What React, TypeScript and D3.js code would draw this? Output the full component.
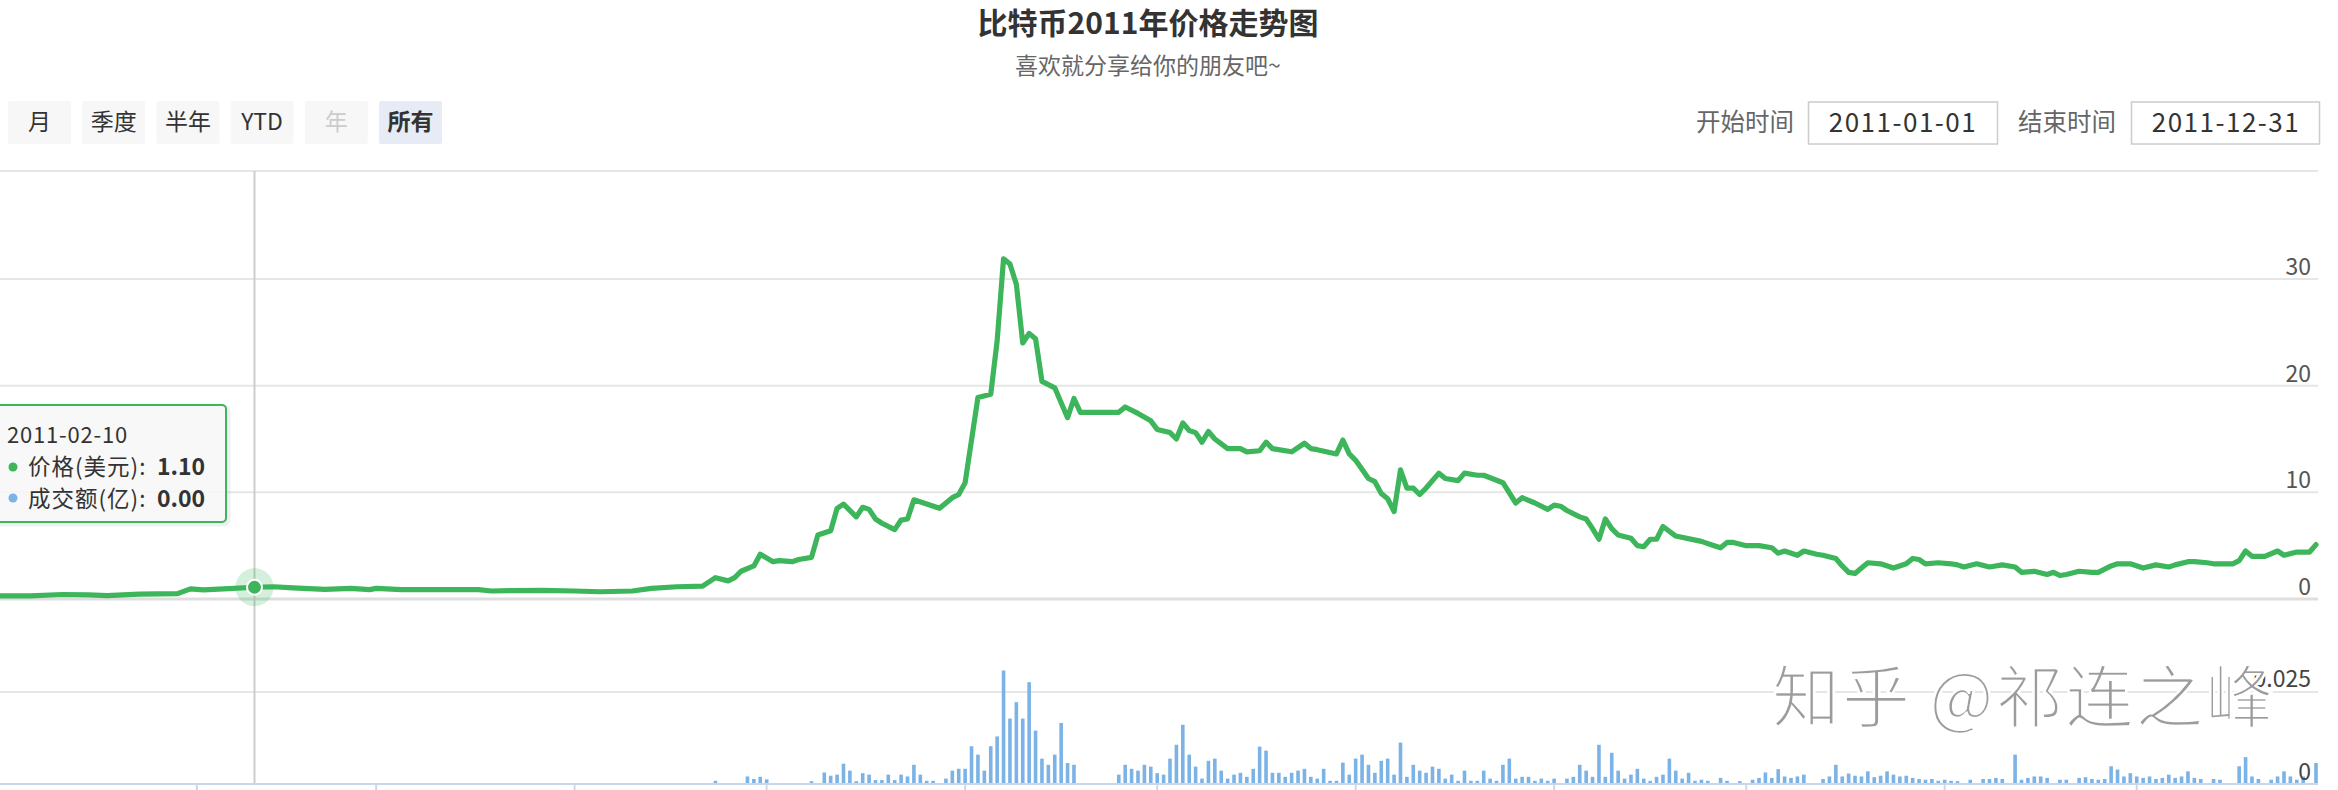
import React from 'react';
import * as d3 from 'd3';

// 比特币 2011 年日线价格（美元）与成交额（亿）
const YEAR = '2011';

const priceDays = [
  '01-01', '01-06', '01-11', '01-15', '01-18', '01-23', '01-29', '01-31', '02-02', '02-06',
  '02-10', '02-13', '02-16', '02-21', '02-25', '02-28', '03-01', '03-05', '03-12', '03-17',
  '03-19', '03-22', '03-27', '04-01', '04-05', '04-10', '04-13', '04-17', '04-21', '04-23',
  '04-25', '04-26', '04-27', '04-29', '04-30', '05-02', '05-03', '05-05', '05-06', '05-08',
  '05-09', '05-11', '05-12', '05-13', '05-15', '05-16', '05-17', '05-18', '05-19', '05-21',
  '05-22', '05-23', '05-24', '05-26', '05-28', '05-30', '05-31', '06-01', '06-03', '06-05',
  '06-06', '06-07', '06-08', '06-09', '06-10', '06-11', '06-12', '06-13', '06-14', '06-15',
  '06-17', '06-18', '06-19', '06-25', '06-26', '06-28', '06-30', '07-01', '07-03', '07-04',
  '07-05', '07-06', '07-07', '07-08', '07-09', '07-10', '07-12', '07-14', '07-15', '07-17',
  '07-18', '07-19', '07-22', '07-24', '07-25', '07-26', '07-29', '07-30', '07-31', '08-01',
  '08-03', '08-04', '08-05', '08-06', '08-07', '08-08', '08-09', '08-10', '08-11', '08-12',
  '08-14', '08-15', '08-17', '08-18', '08-20', '08-21', '08-24', '08-26', '08-27', '08-29',
  '08-31', '09-01', '09-02', '09-03', '09-05', '09-06', '09-07', '09-08', '09-09', '09-10',
  '09-11', '09-13', '09-14', '09-15', '09-16', '09-17', '09-18', '09-20', '09-24', '09-26',
  '09-27', '09-28', '09-29', '10-01', '10-03', '10-05', '10-06', '10-07', '10-09', '10-10',
  '10-12', '10-13', '10-15', '10-16', '10-17', '10-18', '10-19', '10-20', '10-22', '10-24',
  '10-26', '10-27', '10-28', '10-29', '10-31', '11-02', '11-03', '11-04', '11-06', '11-08',
  '11-10', '11-12', '11-13', '11-15', '11-17', '11-18', '11-19', '11-20', '11-22', '11-24',
  '11-25', '11-27', '11-28', '11-30', '12-02', '12-04', '12-06', '12-07', '12-09', '12-10',
  '12-12', '12-13', '12-16', '12-17', '12-18', '12-19', '12-21', '12-23', '12-24', '12-26',
  '12-28', '12-29',
];

const priceValues = [
  0.30, 0.30, 0.42, 0.38, 0.32, 0.45, 0.50, 0.95, 0.85, 0.98,
  1.10, 1.15, 1.05, 0.90, 1.00, 0.88, 1.00, 0.88, 0.88, 0.88,
  0.75, 0.78, 0.80, 0.75, 0.68, 0.75, 1.00, 1.15, 1.20, 2.00,
  1.70, 2.00, 2.60, 3.10, 4.20, 3.50, 3.60, 3.50, 3.70, 3.90,
  6.00, 6.40, 8.50, 8.90, 7.70, 8.60, 8.40, 7.50, 7.10, 6.50,
  7.40, 7.50, 9.30, 8.90, 8.50, 9.50, 9.80, 10.90, 18.90, 19.20,
  24.20, 31.90, 31.40, 29.50, 24.00, 24.90, 24.40, 20.40, 20.10, 19.80,
  17.00, 18.80, 17.50, 17.50, 18.00, 17.40, 16.70, 15.90, 15.60, 15.00,
  16.50, 15.80, 15.60, 14.70, 15.70, 15.00, 14.10, 14.10, 13.80, 13.90,
  14.70, 14.10, 13.80, 14.60, 14.10, 14.00, 13.60, 14.90, 13.60, 13.00,
  11.30, 11.00, 9.90, 9.40, 8.20, 12.10, 10.40, 10.40, 9.80, 10.40,
  11.80, 11.30, 11.10, 11.80, 11.60, 11.60, 10.90, 9.00, 9.50, 9.00,
  8.40, 8.80, 8.70, 8.30, 7.70, 7.50, 6.60, 5.60, 7.50, 6.60,
  6.00, 5.70, 5.00, 4.90, 5.60, 5.60, 6.80, 5.90, 5.40, 5.00,
  4.80, 5.30, 5.30, 5.00, 5.00, 4.80, 4.30, 4.50, 4.10, 4.50,
  4.20, 4.10, 3.80, 3.10, 2.50, 2.40, 2.90, 3.40, 3.30, 2.90,
  3.30, 3.80, 3.70, 3.30, 3.40, 3.30, 3.20, 3.00, 3.30, 3.00,
  3.20, 3.00, 2.50, 2.60, 2.30, 2.50, 2.20, 2.30, 2.60, 2.50,
  2.50, 3.10, 3.30, 3.30, 2.90, 3.20, 3.00, 3.20, 3.50, 3.50,
  3.40, 3.30, 3.30, 3.60, 4.50, 4.00, 4.00, 4.50, 4.10, 4.40,
  4.40, 5.10,
];

const volumeDays = [
  '04-23', '04-28', '04-29', '04-30', '05-01', '05-08', '05-10', '05-11', '05-12', '05-13',
  '05-14', '05-15', '05-16', '05-17', '05-18', '05-19', '05-20', '05-21', '05-22', '05-23',
  '05-24', '05-25', '05-26', '05-27', '05-29', '05-30', '05-31', '06-01', '06-02', '06-03',
  '06-04', '06-05', '06-06', '06-07', '06-08', '06-09', '06-10', '06-11', '06-12', '06-13',
  '06-14', '06-15', '06-16', '06-17', '06-18', '06-25', '06-26', '06-27', '06-28', '06-29',
  '06-30', '07-01', '07-02', '07-03', '07-04', '07-05', '07-06', '07-07', '07-08', '07-09',
  '07-10', '07-11', '07-12', '07-13', '07-14', '07-15', '07-16', '07-17', '07-18', '07-19',
  '07-20', '07-21', '07-22', '07-23', '07-24', '07-25', '07-26', '07-27', '07-28', '07-29',
  '07-30', '07-31', '08-01', '08-02', '08-03', '08-04', '08-05', '08-06', '08-07', '08-08',
  '08-09', '08-10', '08-11', '08-12', '08-13', '08-14', '08-15', '08-16', '08-17', '08-18',
  '08-19', '08-20', '08-21', '08-22', '08-23', '08-24', '08-25', '08-26', '08-27', '08-28',
  '08-29', '08-30', '08-31', '09-01', '09-03', '09-04', '09-05', '09-06', '09-07', '09-08',
  '09-09', '09-10', '09-11', '09-12', '09-13', '09-14', '09-15', '09-16', '09-17', '09-18',
  '09-19', '09-20', '09-21', '09-22', '09-23', '09-24', '09-25', '09-27', '09-28', '09-30',
  '10-02', '10-03', '10-04', '10-05', '10-06', '10-07', '10-08', '10-09', '10-10', '10-13',
  '10-14', '10-15', '10-16', '10-17', '10-18', '10-19', '10-20', '10-21', '10-22', '10-23',
  '10-24', '10-25', '10-26', '10-27', '10-28', '10-29', '10-30', '10-31', '11-01', '11-02',
  '11-03', '11-05', '11-07', '11-08', '11-09', '11-10', '11-12', '11-13', '11-14', '11-15',
  '11-16', '11-17', '11-19', '11-20', '11-22', '11-23', '11-24', '11-25', '11-26', '11-27',
  '11-28', '11-29', '11-30', '12-01', '12-02', '12-03', '12-04', '12-05', '12-06', '12-07',
  '12-08', '12-09', '12-10', '12-11', '12-13', '12-14', '12-17', '12-18', '12-19', '12-20',
  '12-22', '12-23', '12-24', '12-25', '12-26', '12-27', '12-29',
];

const volumeValues = [
  0.0006, 0.0018, 0.0011, 0.0017, 0.0010, 0.0005, 0.0029, 0.0020, 0.0023, 0.0053,
  0.0034, 0.0005, 0.0027, 0.0023, 0.0008, 0.0008, 0.0023, 0.0008, 0.0023, 0.0018,
  0.0050, 0.0023, 0.0006, 0.0006, 0.0012, 0.0034, 0.0039, 0.0039, 0.0101, 0.0078,
  0.0034, 0.0101, 0.0128, 0.0309, 0.0177, 0.0222, 0.0177, 0.0277, 0.0144, 0.0067,
  0.0050, 0.0078, 0.0165, 0.0055, 0.0050, 0.0023, 0.0050, 0.0039, 0.0034, 0.0050,
  0.0045, 0.0027, 0.0023, 0.0067, 0.0105, 0.0160, 0.0078, 0.0045, 0.0012, 0.0061,
  0.0067, 0.0034, 0.0012, 0.0023, 0.0028, 0.0017, 0.0039, 0.0100, 0.0089, 0.0028,
  0.0028, 0.0017, 0.0028, 0.0034, 0.0039, 0.0017, 0.0012, 0.0039, 0.0006, 0.0006,
  0.0056, 0.0023, 0.0067, 0.0078, 0.0050, 0.0028, 0.0061, 0.0067, 0.0023, 0.0111,
  0.0017, 0.0050, 0.0034, 0.0028, 0.0045, 0.0039, 0.0012, 0.0023, 0.0006, 0.0034,
  0.0006, 0.0006, 0.0034, 0.0012, 0.0006, 0.0050, 0.0067, 0.0012, 0.0017, 0.0017,
  0.0006, 0.0012, 0.0006, 0.0012, 0.0012, 0.0017, 0.0050, 0.0034, 0.0017, 0.0105,
  0.0017, 0.0083, 0.0034, 0.0012, 0.0023, 0.0039, 0.0012, 0.0006, 0.0017, 0.0023,
  0.0067, 0.0034, 0.0012, 0.0028, 0.0006, 0.0009, 0.0006, 0.0014, 0.0006, 0.0005,
  0.0009, 0.0014, 0.0029, 0.0014, 0.0038, 0.0018, 0.0014, 0.0018, 0.0023, 0.0011,
  0.0018, 0.0050, 0.0018, 0.0026, 0.0020, 0.0018, 0.0032, 0.0016, 0.0020, 0.0032,
  0.0023, 0.0018, 0.0020, 0.0014, 0.0011, 0.0009, 0.0011, 0.0006, 0.0009, 0.0006,
  0.0005, 0.0009, 0.0011, 0.0011, 0.0014, 0.0011, 0.0078, 0.0009, 0.0014, 0.0018,
  0.0018, 0.0014, 0.0009, 0.0009, 0.0014, 0.0016, 0.0011, 0.0009, 0.0011, 0.0046,
  0.0037, 0.0018, 0.0027, 0.0018, 0.0014, 0.0018, 0.0011, 0.0014, 0.0023, 0.0014,
  0.0018, 0.0032, 0.0014, 0.0011, 0.0011, 0.0009, 0.0046, 0.0071, 0.0018, 0.0011,
  0.0009, 0.0018, 0.0032, 0.0018, 0.0009, 0.0018, 0.0055,
];

const priceTicks = [0, 10, 20, 30];
const volumeTicks = [0, 0.025];
const rangeButtons = ['月', '季度', '半年', 'YTD', '年', '所有'];
const selectedButton = '所有';
const disabledButton = '年';
const startDate = '2011-01-01';
const endDate = '2011-12-31';
const hoverDay = '02-10';

const titleText = '比特币2011年价格走势图';
const subtitleText = '喜欢就分享给你的朋友吧~';
const watermarkText = '知乎 @祁连之峰';

const FONT = "'Noto Sans CJK SC', 'Noto Sans', sans-serif";
const W = 2338;
const H = 790;
const PLOT_RIGHT = 2318;
const GREEN = '#3cb55b';
const BLUE = '#7cb3e6';

const parseDate = d3.utcParse('%Y-%m-%d');
const toDate = (md: string) => parseDate(`${YEAR}-${md}`) as Date;

export default function App() {
  const xScale = d3
    .scaleUtc()
    .domain([toDate('01-01'), toDate('12-29')])
    .range([-1.6, 2316]);
  const yPrice = d3.scaleLinear().domain([0, 30]).range([599, 279]);
  const yVol = d3.scaleLinear().domain([0, 0.025]).range([783, 692]);

  const pricePts: [Date, number][] = priceDays.map((d, i) => [toDate(d), priceValues[i]]);
  const linePath = d3
    .line<[Date, number]>()
    .x((d) => xScale(d[0]))
    .y((d) => yPrice(d[1]))(pricePts) as string;

  const monthTicks = d3.utcMonth.range(toDate('02-01'), toDate('12-02'));

  const hoverIdx = priceDays.indexOf(hoverDay);
  const hoverPrice = priceValues[hoverIdx];
  const volIdx = volumeDays.indexOf(hoverDay);
  const hoverVol = volIdx >= 0 ? volumeValues[volIdx] : 0;
  const hx = xScale(toDate(hoverDay));
  const hy = yPrice(hoverPrice);

  const barW = 3.6;

  return (
    <svg
      width={W}
      height={H}
      style={{ position: 'absolute', left: 0, top: 0, background: '#fff', fontFamily: FONT }}
    >
      <rect x={0} y={0} width={W} height={H} fill="#fff" />

      {/* 标题 */}
      <text x={1148} y={34} textAnchor="middle" fontSize={30} fontWeight={700} fill="#333">
        {titleText}
      </text>
      <text x={1148} y={74} textAnchor="middle" fontSize={23} fill="#666">
        {subtitleText}
      </text>

      {/* 时间范围按钮 */}
      {rangeButtons.map((b, i) => {
        const bx = 8 + i * 74.2;
        const sel = b === selectedButton;
        const dis = b === disabledButton;
        return (
          <g key={b}>
            <rect x={bx} y={101} width={63} height={43} rx={2} fill={sel ? '#e6ebf5' : '#f7f7f7'} />
            <text
              x={bx + 31.5}
              y={130}
              textAnchor="middle"
              fontSize={23}
              fontWeight={sel ? 700 : 400}
              fill={dis ? '#cccccc' : '#333'}
            >
              {b}
            </text>
          </g>
        );
      })}

      {/* 日期输入框 */}
      <text x={1794} y={131} textAnchor="end" fontSize={24.5} fill="#666">开始时间</text>
      <rect x={1808.5} y={102} width={189} height={42} fill="#fff" stroke="#cccccc" strokeWidth={1.5} />
      <text x={1903} y={132} textAnchor="middle" fontSize={26} fill="#333" style={{ letterSpacing: '1.5px' }}>
        {startDate}
      </text>
      <text x={2116} y={131} textAnchor="end" fontSize={24.5} fill="#666">结束时间</text>
      <rect x={2131.5} y={102} width={188} height={42} fill="#fff" stroke="#cccccc" strokeWidth={1.5} />
      <text x={2226} y={132} textAnchor="middle" fontSize={26} fill="#333" style={{ letterSpacing: '1.5px' }}>
        {endDate}
      </text>

      {/* 价格网格线 */}
      <line x1={0} x2={PLOT_RIGHT} y1={171} y2={171} stroke="#e6e6e6" strokeWidth={2} />
      {priceTicks.map((t) => (
        <g key={`p${t}`}>
          <line
            x1={0}
            x2={PLOT_RIGHT}
            y1={yPrice(t)}
            y2={yPrice(t)}
            stroke={t === 0 ? '#dedede' : '#e6e6e6'}
            strokeWidth={t === 0 ? 3 : 2}
          />
          <text x={2311} y={yPrice(t) - 4} textAnchor="end" fontSize={23} fill="#555">
            {t}
          </text>
        </g>
      ))}

      {/* 成交额网格线与坐标轴 */}
      {volumeTicks
        .filter((t) => t > 0)
        .map((t) => (
          <line key={`vg${t}`} x1={0} x2={PLOT_RIGHT} y1={yVol(t)} y2={yVol(t)} stroke="#e6e6e6" strokeWidth={2} />
        ))}
      <line x1={0} x2={PLOT_RIGHT} y1={yVol(0) + 1} y2={yVol(0) + 1} stroke="#ccd6eb" strokeWidth={2} />
      {monthTicks.map((m) => (
        <line
          key={m.toISOString()}
          x1={xScale(m)}
          x2={xScale(m)}
          y1={yVol(0) + 1}
          y2={H}
          stroke="#ccd6eb"
          strokeWidth={2}
        />
      ))}

      {/* 成交额柱 */}
      {volumeDays.map((d, i) => {
        const x = xScale(toDate(d));
        const y = yVol(volumeValues[i]);
        return (
          <rect key={d} x={x - barW / 2} y={y} width={barW} height={yVol(0) - y} fill={BLUE} />
        );
      })}

      {/* 十字准线 */}
      <line x1={hx} x2={hx} y1={171} y2={yVol(0)} stroke="#cccccc" strokeWidth={2} />

      {/* 价格线 */}
      <path d={linePath} fill="none" stroke={GREEN} strokeWidth={5.2} strokeLinejoin="round" strokeLinecap="round" />

      {/* 悬停点 */}
      <circle cx={hx} cy={hy} r={19} fill={GREEN} fillOpacity={0.22} />
      <circle cx={hx} cy={hy} r={7.5} fill={GREEN} stroke="#fff" strokeWidth={2} />

      {/* 成交额坐标标签 */}
      {volumeTicks.map((t) => (
        <text key={`vl${t}`} x={2311} y={yVol(t) - (t === 0 ? 3 : 5)} textAnchor="end" fontSize={23} fill="#444">
          {t}
        </text>
      ))}

      {/* 提示框 */}
      <g>
        <rect x={-10} y={407} width={238} height={117} rx={4} fill="none" stroke="#000" strokeOpacity={0.06} strokeWidth={5} />
        <rect x={-12} y={405} width={238} height={117} rx={4} fill="#f7f7f7" fillOpacity={0.88} stroke={GREEN} strokeWidth={2} />
        <text x={7} y={443} fontSize={22} fill="#333" style={{ letterSpacing: '0.8px' }}>{`${YEAR}-${hoverDay}`}</text>
        <circle cx={13} cy={467} r={4.5} fill={GREEN} />
        <text x={28} y={475} fontSize={22.5} fill="#333" style={{ letterSpacing: '1px' }}>价格(美元):</text>
        <text x={157} y={475} fontSize={23} fontWeight={700} fill="#333">{hoverPrice.toFixed(2)}</text>
        <circle cx={13} cy={498} r={4.5} fill={BLUE} />
        <text x={28} y={507} fontSize={22.5} fill="#333" style={{ letterSpacing: '1px' }}>成交额(亿):</text>
        <text x={157} y={507} fontSize={23} fontWeight={700} fill="#333">{hoverVol.toFixed(2)}</text>
      </g>

      {/* 水印 */}
      <text
        x={1772}
        y={722}
        fontSize={68}
        fill="#9c9c9c"
        stroke="#fff"
        strokeWidth={2.5}
        style={{ letterSpacing: '2px' }}
      >
        {watermarkText}
      </text>
    </svg>
  );
}
